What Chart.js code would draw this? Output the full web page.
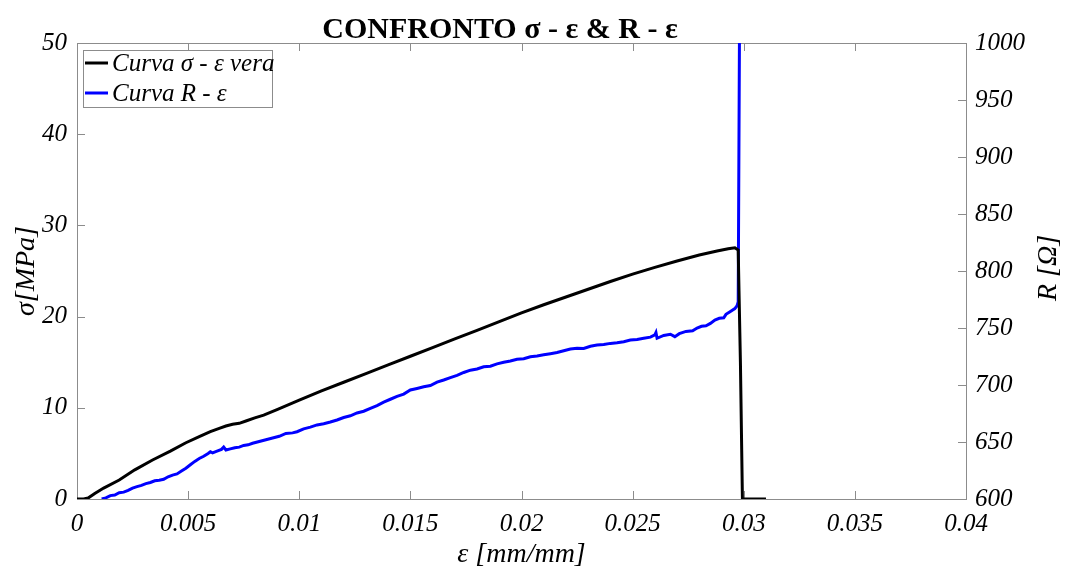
<!DOCTYPE html>
<html>
<head>
<meta charset="utf-8">
<script src="https://cdn.jsdelivr.net/npm/chart.js@4.4.0/dist/chart.umd.min.js"></script>
<style>
  body { margin: 0; background: #fff; }
  #wrap { width: 1065px; height: 569px; }
</style>
</head>
<body>
<div id="wrap"><canvas id="chart" width="1065" height="569"></canvas></div>
<script>
// sigma - eps curve (left axis, MPa)
let sigmaEps = [0, 0.0003, 0.0005, 0.0008, 0.0012, 0.0019, 0.0026, 0.0034, 0.0042, 0.0049, 0.0055, 0.006, 0.0064, 0.0067, 0.007, 0.0073, 0.0076, 0.008, 0.0084, 0.009, 0.01, 0.011, 0.012, 0.013, 0.014, 0.015, 0.016, 0.017, 0.018, 0.019, 0.02, 0.021, 0.022, 0.023, 0.024, 0.025, 0.026, 0.027, 0.028, 0.0288, 0.0293, 0.0296, 0.02975, 0.02985, 0.02994, 0.031]
let sigmaVal = [0, 0, 0.1, 0.6, 1.2, 2.08, 3.2, 4.28, 5.25, 6.17, 6.85, 7.38, 7.75, 8.0, 8.2, 8.3, 8.55, 8.9, 9.2, 9.8, 10.85, 11.85, 12.8, 13.75, 14.7, 15.65, 16.6, 17.55, 18.5, 19.45, 20.4, 21.3, 22.15, 23.0, 23.85, 24.65, 25.4, 26.1, 26.75, 27.2, 27.45, 27.55, 27.3, 15, 0, 0]

// R - eps curve (right axis, Ohm)
let rEps = [0.00111, 0.0013, 0.0015, 0.0017, 0.0019, 0.0021, 0.0023, 0.0025, 0.0027, 0.0029, 0.0031, 0.0033, 0.0035, 0.0037, 0.0039, 0.0041, 0.0043, 0.0045, 0.0047, 0.0049, 0.0051, 0.0053, 0.0055, 0.0057, 0.0059, 0.006, 0.0061, 0.0063, 0.0065, 0.0066, 0.0067, 0.0069, 0.0071, 0.0073, 0.0075, 0.0077, 0.0079, 0.0082, 0.0085, 0.0088, 0.0091, 0.0094, 0.0097, 0.0099, 0.0102, 0.0105, 0.0108, 0.0111, 0.0114, 0.0117, 0.012, 0.0123, 0.0126, 0.0129, 0.0132, 0.0135, 0.0138, 0.0141, 0.0144, 0.0147, 0.015, 0.0153, 0.0156, 0.0159, 0.0162, 0.0165, 0.0168, 0.0171, 0.0174, 0.0177, 0.018, 0.0183, 0.0186, 0.0189, 0.0192, 0.0195, 0.0198, 0.0201, 0.0204, 0.0207, 0.021, 0.0213, 0.0216, 0.0219, 0.0222, 0.0225, 0.0228, 0.0231, 0.0234, 0.0237, 0.024, 0.0243, 0.0246, 0.0249, 0.0252, 0.0255, 0.0258, 0.026, 0.02605, 0.0261, 0.0264, 0.0267, 0.0269, 0.0271, 0.0274, 0.0277, 0.0279, 0.0281, 0.0283, 0.0285, 0.0287, 0.0289, 0.0291, 0.0292, 0.0294, 0.0296, 0.0297, 0.02975, 0.02983]
let rVal = [600, 601, 603, 603.5, 605.5, 606, 607.5, 609.5, 610.8, 612, 613.5, 614.5, 616, 616.5, 617.3, 619.5, 621, 622, 624.5, 627, 630, 633, 635.5, 637.5, 640, 641.5, 640.5, 642, 643.5, 645.5, 643, 644, 645, 645.5, 647, 647.5, 648.9, 650.5, 652, 653.5, 655, 657.5, 658, 659, 661.5, 663, 665, 666, 667.5, 669.3, 671.5, 673, 675.5, 677, 679.5, 682, 685, 687.5, 690, 692, 695.6, 697, 698.5, 699.5, 702.5, 704.4, 706.5, 708.5, 711, 713, 714, 716, 716.5, 718.5, 720, 721, 722.5, 723, 724.8, 725.5, 726.5, 727.5, 728.5, 730, 731.5, 732.2, 732, 734, 735, 735.5, 736.5, 737, 738, 739.5, 740, 741, 742, 743.9, 746, 741, 743.5, 744.5, 742.4, 745, 747, 747.5, 750, 751.5, 752, 754, 757, 758.5, 759, 762, 764.5, 767, 769.5, 773, 1100]

let xTicks = [0, 0.005, 0.01, 0.015, 0.02, 0.025, 0.03, 0.035, 0.04]
let sigmaTicks = [0, 10, 20, 30, 40, 50]
let rTicks = [600, 650, 700, 750, 800, 850, 900, 950, 1000]

let titleText = 'CONFRONTO σ - ε & R - ε'
let rTitle = 'R [Ω]'
let serif = "'Liberation Serif', 'Times New Roman', serif"
let frameColor = '#8c8c8c'

function toPoints(xs, ys) {
    return xs.map((x, i) => ({x: x, y: ys[i]}))
}

function fixTicks(list) {
    return function (scale) {
        scale.ticks = list.map(v => ({value: v}))
    }
}

// frame and inward tick marks, matlab style
let framePlugin = {
    id: 'frame',
    beforeDatasetsDraw(chart) {
        let ctx = chart.ctx
        let a = chart.chartArea
        let tl = 8
        ctx.save()
        ctx.strokeStyle = frameColor
        ctx.lineWidth = 1
        ctx.strokeRect(a.left + 0.5, a.top + 0.5, a.right - a.left, a.bottom - a.top)
        ctx.beginPath()
        chart.scales.x.ticks.forEach(t => {
            let px = Math.round(chart.scales.x.getPixelForValue(t.value)) + 0.5
            ctx.moveTo(px, a.bottom); ctx.lineTo(px, a.bottom - tl)
            ctx.moveTo(px, a.top); ctx.lineTo(px, a.top + tl)
        })
        chart.scales.y.ticks.forEach(t => {
            let py = Math.round(chart.scales.y.getPixelForValue(t.value)) + 0.5
            ctx.moveTo(a.left, py); ctx.lineTo(a.left + tl, py)
        })
        chart.scales.y1.ticks.forEach(t => {
            let py = Math.round(chart.scales.y1.getPixelForValue(t.value)) + 0.5
            ctx.moveTo(a.right, py); ctx.lineTo(a.right - tl, py)
        })
        ctx.stroke()
        ctx.restore()
    }
}

// chart title and the right axis title (read bottom to top)
let titlePlugin = {
    id: 'bigTitle',
    afterDraw(chart) {
        let ctx = chart.ctx
        let a = chart.chartArea
        ctx.save()
        ctx.font = `bold 30px ${serif}`
        ctx.fillStyle = '#000'
        ctx.textAlign = 'center'
        ctx.textBaseline = 'alphabetic'
        ctx.fillText(titleText, 500, 38)
        ctx.translate(1049, (a.top + a.bottom) / 2 - 3)
        ctx.rotate(-Math.PI / 2)
        ctx.font = `italic 28px ${serif}`
        ctx.textBaseline = 'middle'
        ctx.fillText(rTitle, 0, 0)
        ctx.restore()
    }
}

// boxed legend inside top left corner of the plot
let boxLegend = {
    id: 'boxLegend',
    afterDraw(chart) {
        let ctx = chart.ctx
        let a = chart.chartArea
        let bx = a.left + 6, by = a.top + 7, bw = 189, bh = 57
        ctx.save()
        ctx.fillStyle = '#fff'
        ctx.fillRect(bx, by, bw, bh)
        ctx.strokeStyle = frameColor
        ctx.lineWidth = 1
        ctx.strokeRect(bx + 0.5, by + 0.5, bw, bh)
        ctx.font = `italic 25px ${serif}`
        ctx.textBaseline = 'middle'
        ctx.fillStyle = '#000'
        chart.data.datasets.forEach((ds, i) => {
            let ly = by + 13 + i * 30
            ctx.strokeStyle = ds.borderColor
            ctx.lineWidth = 3
            ctx.beginPath()
            ctx.moveTo(bx + 2, ly)
            ctx.lineTo(bx + 25, ly)
            ctx.stroke()
            ctx.fillText(ds.label, bx + 29, ly + 1)
        })
        ctx.restore()
    }
}

let tickFont = {family: serif, size: 25, style: 'italic'}
let axisFont = {family: serif, size: 28, style: 'italic', lineHeight: 1}

let ctx = document.getElementById('chart').getContext('2d')
let myChart = new Chart(ctx, {
    type: 'line',
    data: {
        datasets: [
            {
                label: 'Curva σ - ε vera',
                data: toPoints(sigmaEps, sigmaVal),
                borderColor: '#000000',
                borderWidth: 3,
                pointRadius: 0,
                tension: 0,
                yAxisID: 'y'
            },
            {
                label: 'Curva R - ε',
                data: toPoints(rEps, rVal),
                borderColor: '#0000ff',
                borderWidth: 3,
                pointRadius: 0,
                tension: 0,
                yAxisID: 'y1'
            }
        ]
    },
    options: {
        responsive: false,
        animation: false,
        layout: { padding: { top: 43, left: 0, right: 0, bottom: 0 } },
        plugins: {
            legend: { display: false },
            tooltip: { enabled: false }
        },
        scales: {
            x: {
                type: 'linear',
                min: 0,
                max: 0.04,
                afterBuildTicks: fixTicks(xTicks),
                afterFit: s => { s.height = 70 },
                grid: { display: false, drawTicks: false },
                border: { display: false },
                ticks: {
                    font: tickFont,
                    color: '#000',
                    padding: 10,
                    maxRotation: 0,
                    autoSkip: false,
                    callback: v => String(v)
                },
                title: { display: true, text: 'ε [mm/mm]', font: axisFont, color: '#000', padding: 0 }
            },
            y: {
                position: 'left',
                min: 0,
                max: 50,
                afterBuildTicks: fixTicks(sigmaTicks),
                afterFit: s => { s.width = 77 },
                grid: { display: false, drawTicks: false },
                border: { display: false },
                ticks: { font: tickFont, color: '#000', padding: 10, callback: v => String(v) },
                title: { display: true, text: 'σ[MPa]', font: axisFont, color: '#000', padding: { top: 13, bottom: 0 } }
            },
            y1: {
                position: 'right',
                min: 600,
                max: 1000,
                afterBuildTicks: fixTicks(rTicks),
                afterFit: s => { s.width = 99 },
                grid: { display: false, drawTicks: false },
                border: { display: false },
                ticks: { font: tickFont, color: '#000', padding: 9, callback: v => String(v) },
                title: { display: false }
            }
        }
    },
    plugins: [framePlugin, titlePlugin, boxLegend]
})
</script>
</body>
</html>
